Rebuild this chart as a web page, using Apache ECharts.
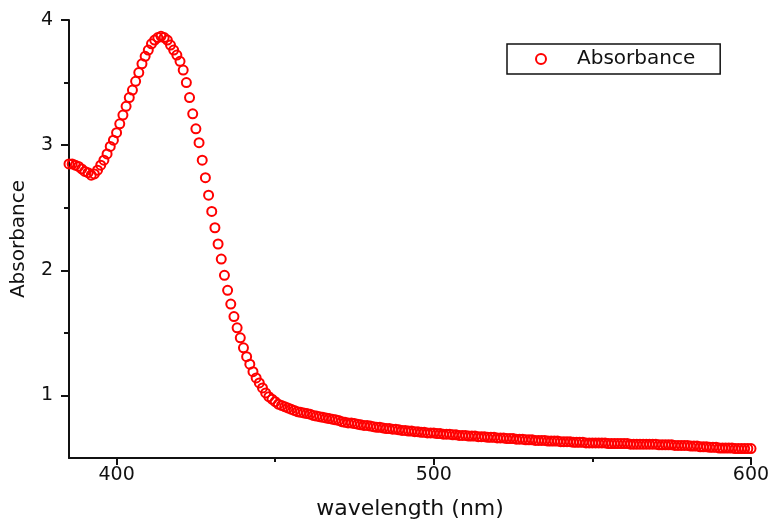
<!DOCTYPE html>
<html>
<head>
<meta charset="utf-8">
<title>Absorbance</title>
<script src="https://cdn.jsdelivr.net/npm/echarts@6/dist/echarts.min.js"></script>
<style>
  html, body { margin: 0; padding: 0; background: #fff; }
  #chart { width: 774px; height: 522px; }
</style>
</head>
<body>
<div id="chart"></div>
<script>
// spectrum sampled every 1 nm starting at 385 nm
var startWavelength = 385;
var absorbance = [
    2.85, 2.85, 2.84, 2.83, 2.81, 2.79, 2.78, 2.76, 2.77, 2.80,
    2.84, 2.88, 2.93, 2.99, 3.04, 3.10, 3.17, 3.24, 3.31, 3.38,
    3.44, 3.51, 3.58, 3.65, 3.71, 3.76, 3.81, 3.84, 3.86, 3.87,
    3.86, 3.84, 3.80, 3.76, 3.72, 3.67, 3.60, 3.50, 3.38, 3.25,
    3.13, 3.02, 2.88, 2.74, 2.60, 2.47, 2.34, 2.21, 2.09, 1.96,
    1.84, 1.73, 1.63, 1.54, 1.46, 1.38, 1.31, 1.25, 1.19, 1.14,
    1.10, 1.06, 1.02, 0.99, 0.97,
    // 450
    0.95, 0.93, 0.92, 0.91, 0.90, 0.89, 0.88, 0.87, 0.865, 0.86,
    0.855, 0.85, 0.84, 0.835, 0.83, 0.825, 0.82, 0.815, 0.81, 0.805,
    0.80, 0.79, 0.785, 0.78, 0.78, 0.775, 0.77, 0.765, 0.76, 0.76,
    0.755, 0.75, 0.745, 0.745, 0.74, 0.735, 0.735, 0.73, 0.73, 0.725,
    0.72, 0.72, 0.715, 0.715, 0.71, 0.71, 0.705, 0.705, 0.70, 0.70,
    // 500
    0.70, 0.695, 0.695, 0.69, 0.69, 0.69, 0.685, 0.685, 0.68, 0.68,
    0.68, 0.675, 0.675, 0.675, 0.67, 0.67, 0.67, 0.665, 0.665, 0.665,
    0.66, 0.66, 0.66, 0.655, 0.655, 0.655, 0.65, 0.65, 0.65, 0.645,
    0.645, 0.645, 0.64, 0.64, 0.64, 0.64, 0.635, 0.635, 0.635, 0.635,
    0.63, 0.63, 0.63, 0.63, 0.625, 0.625, 0.625, 0.625, 0.62, 0.62,
    // 550
    0.62, 0.62, 0.62, 0.62, 0.62, 0.615, 0.615, 0.615, 0.615, 0.615,
    0.615, 0.615, 0.61, 0.61, 0.61, 0.61, 0.61, 0.61, 0.61, 0.61,
    0.61, 0.605, 0.605, 0.605, 0.605, 0.605, 0.60, 0.60, 0.60, 0.60,
    0.60, 0.595, 0.595, 0.595, 0.59, 0.59, 0.59, 0.585, 0.585, 0.585,
    0.58, 0.58, 0.58, 0.58, 0.58, 0.575, 0.575, 0.575, 0.575, 0.575, 0.575
];
var xTicks = [400, 500, 600];
var xMinorTicks = [450, 550];
var yTicks = [1, 2, 3, 4];
var yMinorTicks = [1.5, 2.5, 3.5];

var points = [];
for (var i = 0; i < absorbance.length; i++) {
    points.push([startWavelength + i, absorbance[i]]);
}

var chart = echarts.init(document.getElementById('chart'));

var axisFont = { fontFamily: 'DejaVu Sans', fontSize: 19, color: '#111' };

var option = {
    animation: false,
    backgroundColor: '#fff',
    grid: { left: 69, right: 23, top: 20, bottom: 64, outerBoundsMode: 'none' },
    legend: {
        left: 507,
        top: 44,
        data: ['Absorbance'],
        icon: 'circle',
        itemWidth: 10,
        itemHeight: 10,
        padding: [5, 25, 5, 28],
        borderColor: '#111',
        borderWidth: 1.5,
        textStyle: {
            fontFamily: 'DejaVu Sans',
            fontSize: 20,
            color: '#111',
            padding: [0, 0, 0, 26]
        }
    },
    xAxis: [
        {
            type: 'value',
            min: 385,
            max: 600,
            name: 'wavelength (nm)',
            nameLocation: 'middle',
            nameGap: 40,
            nameTextStyle: { fontFamily: 'DejaVu Sans', fontSize: 22, color: '#111' },
            splitLine: { show: false },
            axisLine: { lineStyle: { color: '#111', width: 2 } },
            axisTick: { customValues: xTicks, length: 7, lineStyle: { color: '#111', width: 2 } },
            axisLabel: Object.assign({ customValues: xTicks, margin: 8 }, axisFont)
        },
        {
            type: 'value',
            min: 385,
            max: 600,
            position: 'bottom',
            splitLine: { show: false },
            axisLine: { show: false },
            axisTick: { customValues: xMinorTicks, length: 4, lineStyle: { color: '#111', width: 2 } },
            axisLabel: { show: false }
        }
    ],
    yAxis: [
        {
            type: 'value',
            min: 0.5,
            max: 4,
            name: 'Absorbance',
            nameLocation: 'middle',
            nameGap: 40,
            nameTextStyle: { fontFamily: 'DejaVu Sans', fontSize: 20, color: '#111' },
            splitLine: { show: false },
            axisLine: { show: true, lineStyle: { color: '#111', width: 2 } },
            axisTick: { show: true, customValues: yTicks, length: 8, lineStyle: { color: '#111', width: 2 } },
            axisLabel: Object.assign({ customValues: yTicks, margin: 16 }, axisFont)
        },
        {
            type: 'value',
            min: 0.5,
            max: 4,
            position: 'left',
            splitLine: { show: false },
            axisLine: { show: false },
            axisTick: { show: true, customValues: yMinorTicks, length: 5, lineStyle: { color: '#111', width: 2 } },
            axisLabel: { show: false }
        }
    ],
    series: [
        {
            name: 'Absorbance',
            type: 'scatter',
            data: points,
            symbol: 'circle',
            symbolSize: 9,
            itemStyle: {
                color: 'rgba(255,255,255,0)',
                borderColor: '#ff0000',
                borderWidth: 2,
                opacity: 1
            }
        }
    ]
};

chart.setOption(option);
</script>
</body>
</html>
